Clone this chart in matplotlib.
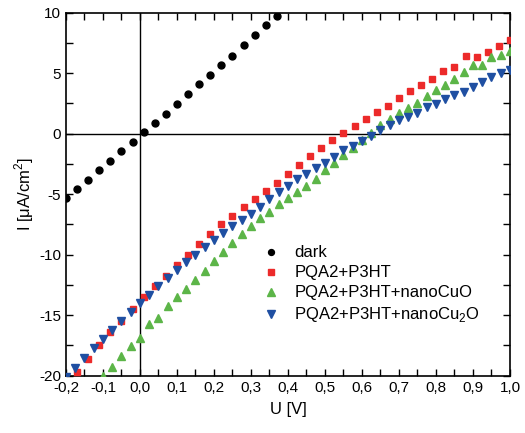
import numpy as np
import matplotlib
matplotlib.use("Agg")
import matplotlib.pyplot as plt
from matplotlib.ticker import MultipleLocator, FuncFormatter

plt.rcParams['font.family'] = ['Liberation Sans', 'DejaVu Sans']
plt.rcParams['mathtext.fontset'] = 'custom'
plt.rcParams['mathtext.rm'] = 'Liberation Sans'

# region Data
u_dark = np.round(-0.2 + 0.03 * np.arange(20), 3)
i_dark = [-5.34, -4.6, -3.85, -3.03, -2.26, -1.46, -0.72, 0.11, 0.91, 1.67,
          2.48, 3.3, 4.09, 4.89, 5.66, 6.46, 7.34, 8.14, 8.99, 9.76]

u_p3ht = np.round(-0.17 + 0.03 * np.arange(40), 3)
i_p3ht = [-19.7, -18.6, -17.5, -16.4, -15.5, -14.45, -13.5, -12.6, -11.75, -10.85,
          -10.0, -9.14, -8.3, -7.48, -6.77, -6.08, -5.42, -4.76, -4.05, -3.3,
          -2.57, -1.87, -1.14, -0.52, 0.03, 0.67, 1.25, 1.8, 2.3, 2.95,
          3.52, 4.0, 4.54, 5.18, 5.48, 6.4, 6.32, 6.73, 7.29, 7.76]

u_cuo = np.round(-0.1 + 0.025 * np.arange(45), 3)
i_cuo = [-20.05, -19.25, -18.4, -17.55, -16.9, -15.7, -15.2, -14.2, -13.48, -12.87,
         -12.1, -11.34, -10.56, -9.77, -9.0, -8.27, -7.65, -7.0, -6.5, -5.8,
         -5.35, -4.85, -4.3, -3.75, -3.0, -2.42, -1.75, -1.19, -0.55, 0.03,
         0.68, 1.2, 1.68, 2.15, 2.55, 3.12, 3.6, 4.0, 4.54, 5.08,
         5.69, 5.69, 6.32, 6.52, 6.87]

u_cu2o = np.round(-0.2 + 0.025 * np.arange(49), 3)
i_cu2o = [-20.1, -19.4, -18.5, -17.7, -17.0, -16.2, -15.5, -14.75, -13.95, -13.3,
          -12.62, -11.93, -11.25, -10.6, -10.0, -9.4, -8.8, -8.18, -7.65, -7.12,
          -6.63, -6.03, -5.38, -4.8, -4.3, -3.75, -3.3, -2.85, -2.4, -1.9,
          -1.35, -1.05, -0.6, -0.22, 0.27, 0.68, 1.1, 1.37, 1.7, 2.2,
          2.42, 2.83, 3.2, 3.47, 3.9, 4.3, 4.67, 5.05, 5.28]

labels = ['dark', 'PQA2+P3HT', 'PQA2+P3HT+nanoCuO', 'PQA2+P3HT+nanoCu$_2$O']
# endregion

fig = plt.figure(figsize=(5.25, 4.33), dpi=100)
ax = fig.add_axes([0.1257, 0.1323, 0.8457, 0.8383])

ax.axhline(0, color='black', lw=1.0, zorder=1)
ax.axvline(0, color='black', lw=1.0, zorder=1)

ax.plot(u_dark, i_dark, 'o', color='black', ms=5, ls='none', label=labels[0], zorder=3)
ax.plot(u_p3ht, i_p3ht, 's', color='#ec2a2a', ms=4.6, ls='none', label=labels[1], zorder=3)
ax.plot(u_cuo, i_cuo, '^', color='#5cb548', ms=6, ls='none', label=labels[2], zorder=3)
ax.plot(u_cu2o, i_cu2o, 'v', color='#1f4fa2', ms=6, ls='none', label=labels[3], zorder=3)

ax.set_xlim(-0.2, 1.0)
ax.set_ylim(-20, 10)
ax.xaxis.set_major_locator(MultipleLocator(0.1))
ax.xaxis.set_minor_locator(MultipleLocator(0.05))
ax.yaxis.set_major_locator(MultipleLocator(5))
ax.yaxis.set_minor_locator(MultipleLocator(2.5))
ax.xaxis.set_major_formatter(FuncFormatter(lambda v, p: ('%.1f' % v).replace('.', ',').replace('-0,0', '0,0')))
ax.yaxis.set_major_formatter(FuncFormatter(lambda v, p: '%d' % round(v)))

ax.tick_params(which='both', direction='in', top=True, right=True, width=1.0, labelsize=11)
ax.tick_params(which='major', length=5)
ax.tick_params(which='minor', length=5)
for s in ax.spines.values():
    s.set_linewidth(1.2)

ax.set_xlabel('U [V]', fontsize=12, labelpad=5)
ax.set_ylabel('I [μA/cm$^2$]', fontsize=12, labelpad=2)

leg = ax.legend(loc='center left', bbox_to_anchor=(0.405, 0.25), frameon=False,
                fontsize=12, handletextpad=0.8, labelspacing=0.3, markerscale=0.85,
                handlelength=1.2)

fig.savefig('out.png', dpi=100)
